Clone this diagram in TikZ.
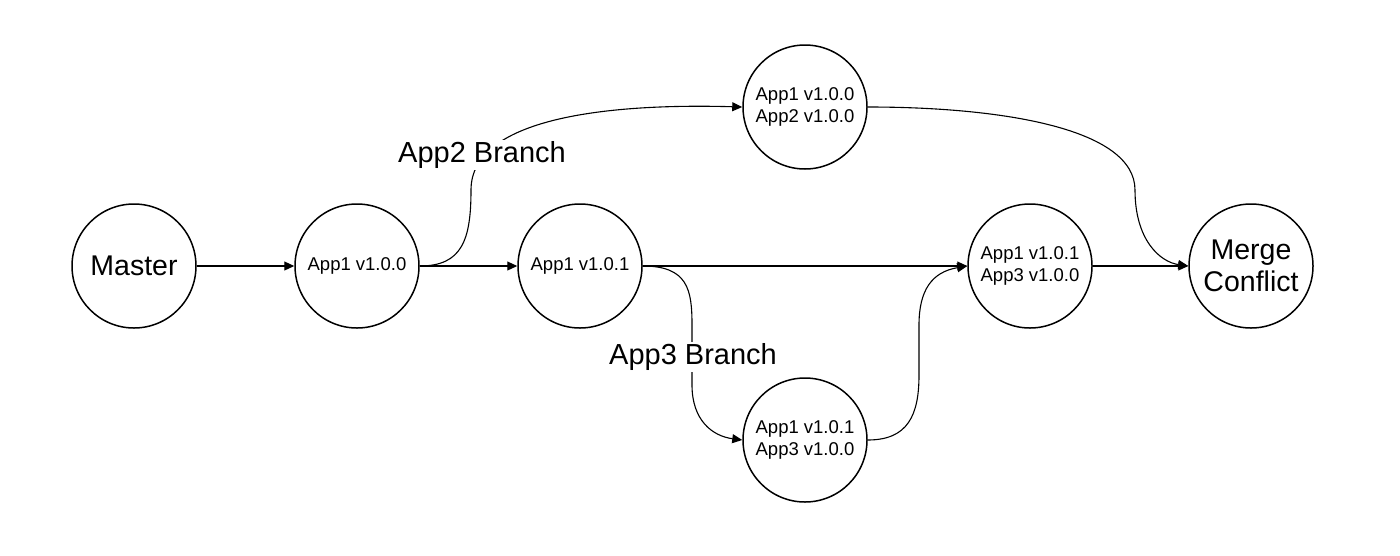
\documentclass[tikz,border=0pt]{standalone}
\usepackage{fontspec}
\setmainfont{Liberation Sans}
\usetikzlibrary{arrows.meta}
\begin{document}
\begin{tikzpicture}[x=1pt,y=-1pt,
  state/.style={circle,draw,line width=1.5pt,minimum size=124pt,inner sep=0pt,align=center,font=\fontsize{18.5}{22}\selectfont},
  bigstate/.style={state,font=\fontsize{28.5}{32}\selectfont},
  edge/.style={line width=1.1pt,-{Triangle[length=10pt,width=9pt]}},
  lbl/.style={fill=white,inner sep=1pt,font=\fontsize{29}{32}\selectfont}]
\fill[white] (0,0) rectangle (1400,555);
\useasboundingbox (0,0) rectangle (1400,555);
\node[bigstate] (master) at (134,266) {Master};
\node[state] (a100) at (357,266) {App1 v1.0.0};
\node[state] (a101) at (580,266) {App1 v1.0.1};
\node[state] (top) at (805,107) {App1 v1.0.0\\App2 v1.0.0};
\node[state] (bot) at (805,440) {App1 v1.0.1\\App3 v1.0.0};
\node[state] (mid) at (1030,266) {App1 v1.0.1\\App3 v1.0.0};
\node[bigstate] (merge) at (1251,266) {Merge\\Conflict};
\draw[edge] (master) -- (a100);
\draw[edge] (a100) -- (a101);
\draw[edge] (a101) -- (mid);
\draw[edge] (mid) -- (merge);
\draw[edge] (a100.east) .. controls (462,266) and (471,240) .. (471,190) .. controls (471,120) and (600,103) .. (top.west);
\draw[edge] (a101.east) .. controls (688,266) and (692,290) .. (692,325) -- (692,385) .. controls (692,420) and (712,436) .. (bot.west);
\draw[edge] (bot.east) .. controls (908,440) and (919,415) .. (919,375) -- (919,325) .. controls (919,290) and (932,272) .. (mid.west);
\draw[edge] (top.east) .. controls (1000,107) and (1135,128) .. (1135,190) .. controls (1135,240) and (1160,262) .. (merge.west);
\node[lbl] (l2) at (482,155) {App2 Branch};
\node[lbl] (l3) at (693,357) {App3 Branch};
\end{tikzpicture}
\end{document}
